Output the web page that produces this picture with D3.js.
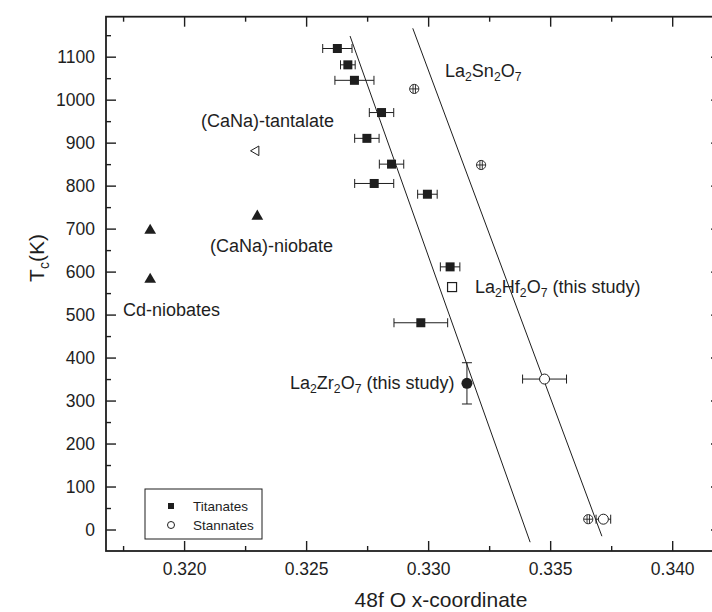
<!DOCTYPE html>
<html>
<head>
<meta charset="utf-8">
<script src="https://cdn.jsdelivr.net/npm/d3@7"></script>
<style>
body { margin: 0; background: #fff; }
svg text { font-family: "Liberation Sans", Arial, Helvetica, sans-serif; fill: #1e1e1e; }
</style>
</head>
<body>
<svg id="chart" width="712" height="612"></svg>
<script>
// titanates: filled squares with x error bars
const titX   = [0.32628, 0.32671, 0.32698, 0.32809, 0.32749, 0.32850, 0.32779, 0.32997, 0.33090, 0.32970];
const titY   = [1119, 1081, 1045, 970, 910, 850, 805, 780, 611, 481];
const titErr = [0.0006, 0.0003, 0.0008, 0.0005, 0.0005, 0.0005, 0.0008, 0.0004, 0.0004, 0.0011];

// stannates: open circles (with x error) and crossed circles
const snX   = [0.33477, 0.33718];
const snY   = [350, 24];
const snErr = [0.0009, 0.0003];
const snCrossX = [0.32943, 0.33217, 0.33656];
const snCrossY = [1025, 848, 24];

// this study
const hfPt = [0.33098, 564];
const zrPt = [0.33159, 340];
const zrErr = 48;

// niobates (filled triangles) and tantalate (open left triangle)
const niobX = [0.31861, 0.31861, 0.32300];
const niobY = [698, 584, 731];
const tantPt = [0.32295, 881];

// linear trend lines [x0, y0, x1, y1]
const titLine = [0.32680, 1148, 0.33418, -29.5];
const snLine  = [0.32937, 1166, 0.33712, -15.6];

const xTicks = [0.320, 0.325, 0.330, 0.335, 0.340];
const xMinor = [0.3175, 0.3225, 0.3275, 0.3325, 0.3375];
const yTicks = [0, 100, 200, 300, 400, 500, 600, 700, 800, 900, 1000, 1100];
const yMinor = [50, 150, 250, 350, 450, 550, 650, 750, 850, 950, 1050, 1150];

const ink = '#1e1e1e';
const svg = d3.select('#chart');
const x = d3.scaleLinear().domain([0.3168, 0.342]).range([106, 721]);
const y = d3.scaleLinear().domain([-50, 1193]).range([551, 16.7]);

// axes
function axisGroup(axis, tx, ty) {
    const g = svg.append('g').attr('transform', `translate(${tx},${ty})`).call(axis);
    g.select('.domain').remove();
    g.selectAll('line').attr('stroke', ink).attr('stroke-width', 1.4);
    g.selectAll('text').attr('font-size', 17.5).attr('fill', ink)
        .attr('font-family', '"Liberation Sans", Arial, sans-serif');
    return g;
}
axisGroup(d3.axisBottom(x).tickValues(xTicks).tickSizeInner(-10).tickSizeOuter(0).tickPadding(12).tickFormat(d3.format('.3f')), 0, 551);
axisGroup(d3.axisBottom(x).tickValues(xMinor).tickSize(-5).tickFormat(''), 0, 551);
axisGroup(d3.axisTop(x).tickValues(xTicks).tickSize(-10).tickFormat(''), 0, 16.7);
axisGroup(d3.axisTop(x).tickValues(xMinor).tickSize(-5).tickFormat(''), 0, 16.7);
axisGroup(d3.axisLeft(y).tickValues(yTicks).tickSizeInner(-10).tickSizeOuter(0).tickPadding(11).tickFormat(d3.format('d')), 106, 0);
axisGroup(d3.axisLeft(y).tickValues(yMinor).tickSize(-5).tickFormat(''), 106, 0);
axisGroup(d3.axisRight(y).tickValues(yTicks).tickSize(-10).tickFormat(''), 721, 0);
axisGroup(d3.axisRight(y).tickValues(yMinor).tickSize(-5).tickFormat(''), 721, 0);

svg.append('rect')
    .attr('x', x.range()[0]).attr('y', y.range()[1])
    .attr('width', x.range()[1] - x.range()[0]).attr('height', y.range()[0] - y.range()[1])
    .attr('fill', 'none').attr('stroke', ink).attr('stroke-width', 1.8);

// titles
svg.append('text').attr('x', 441).attr('y', 607).attr('text-anchor', 'middle')
    .attr('font-size', 21).text('48f O x-coordinate');
const yt = svg.append('text').attr('transform', 'translate(44,258) rotate(-90)')
    .attr('text-anchor', 'middle').attr('font-size', 21);
yt.append('tspan').text('T');
yt.append('tspan').attr('dy', 5).attr('font-size', 14).text('c');
yt.append('tspan').attr('dy', -5).text('(K)');

// trend lines
[titLine, snLine].forEach(l => {
    svg.append('line')
        .attr('x1', x(l[0])).attr('y1', y(l[1]))
        .attr('x2', x(l[2])).attr('y2', y(l[3]))
        .attr('stroke', ink).attr('stroke-width', 1);
});

// horizontal error bars
function xErrBar(cx, cy, e) {
    const g = svg.append('g').attr('stroke', ink).attr('stroke-width', 1);
    g.append('line').attr('x1', x(cx - e)).attr('x2', x(cx + e)).attr('y1', y(cy)).attr('y2', y(cy));
    [cx - e, cx + e].forEach(v => {
        g.append('line').attr('x1', x(v)).attr('x2', x(v)).attr('y1', y(cy) - 4.5).attr('y2', y(cy) + 4.5);
    });
}

titX.forEach((v, i) => xErrBar(v, titY[i], titErr[i]));
svg.append('g').selectAll('rect')
    .data(titX.map((v, i) => [v, titY[i]]))
    .enter()
    .append('rect')
    .attr('x', d => x(d[0]) - 4.5)
    .attr('y', d => y(d[1]) - 4.5)
    .attr('width', 9).attr('height', 9)
    .attr('fill', ink);

snX.forEach((v, i) => xErrBar(v, snY[i], snErr[i]));
svg.append('g').selectAll('circle')
    .data(snX.map((v, i) => [v, snY[i]]))
    .enter()
    .append('circle')
    .attr('cx', d => x(d[0])).attr('cy', d => y(d[1])).attr('r', 5)
    .attr('fill', '#fff').attr('stroke', ink).attr('stroke-width', 1);

// crossed circles
const cross = svg.append('g').selectAll('g')
    .data(snCrossX.map((v, i) => [v, snCrossY[i]]))
    .enter()
    .append('g')
    .attr('transform', d => `translate(${x(d[0])},${y(d[1])})`)
    .attr('stroke', ink).attr('stroke-width', 0.9).attr('fill', 'none');
cross.append('circle').attr('r', 4.6).attr('fill', '#fff');
cross.append('line').attr('x1', -4.6).attr('x2', 4.6);
cross.append('line').attr('x1', -1.2).attr('x2', -1.2).attr('y1', -4.4).attr('y2', 4.4);
cross.append('line').attr('x1', 1.2).attr('x2', 1.2).attr('y1', -4.4).attr('y2', 4.4);

// La2Hf2O7: open square
svg.append('rect')
    .attr('x', x(hfPt[0]) - 4.5).attr('y', y(hfPt[1]) - 4.5)
    .attr('width', 9).attr('height', 9)
    .attr('fill', '#fff').attr('stroke', ink).attr('stroke-width', 1.2);

// La2Zr2O7: filled circle, y error bar
const zg = svg.append('g').attr('stroke', ink).attr('stroke-width', 1);
zg.append('line').attr('x1', x(zrPt[0])).attr('x2', x(zrPt[0]))
    .attr('y1', y(zrPt[1] - zrErr)).attr('y2', y(zrPt[1] + zrErr));
[zrPt[1] - zrErr, zrPt[1] + zrErr].forEach(v => {
    zg.append('line').attr('x1', x(zrPt[0]) - 5).attr('x2', x(zrPt[0]) + 5)
        .attr('y1', y(v)).attr('y2', y(v));
});
svg.append('circle').attr('cx', x(zrPt[0])).attr('cy', y(zrPt[1])).attr('r', 5.5).attr('fill', ink);

// triangles
const tri = d3.symbol().type(d3.symbolTriangle).size(60);
svg.append('g').selectAll('path')
    .data(niobX.map((v, i) => [v, niobY[i]]))
    .enter()
    .append('path')
    .attr('d', tri)
    .attr('transform', d => `translate(${x(d[0])},${y(d[1]) + 1})`)
    .attr('fill', ink);
svg.append('path')
    .attr('d', d3.symbol().type(d3.symbolTriangle).size(40))
    .attr('transform', `translate(${x(tantPt[0])},${y(tantPt[1])}) rotate(-90)`)
    .attr('fill', '#fff').attr('stroke', ink).attr('stroke-width', 1);

// annotations: digits become subscripts
function subText(tx, ty, str, size) {
    const t = svg.append('text').attr('x', tx).attr('y', ty).attr('font-size', size);
    let sub = false;
    str.split(/(\d)/).filter(s => s.length).forEach(s => {
        const isSub = /^\d$/.test(s);
        const dy = isSub && !sub ? 4 : (!isSub && sub ? -4 : 0);
        t.append('tspan').attr('dy', dy).attr('font-size', isSub ? size * 0.68 : size).text(s);
        sub = isSub;
    });
}
subText(445, 77, 'La2Sn2O7', 18);
subText(475, 293, 'La2Hf2O7 (this study)', 18);
subText(290, 389, 'La2Zr2O7 (this study)', 18);
svg.append('text').attr('x', 201).attr('y', 127).attr('font-size', 18).text('(CaNa)-tantalate');
svg.append('text').attr('x', 210).attr('y', 252).attr('font-size', 18).text('(CaNa)-niobate');
svg.append('text').attr('x', 123).attr('y', 316).attr('font-size', 18).text('Cd-niobates');

// legend
const lg = svg.append('g');
lg.append('rect').attr('x', 145).attr('y', 489).attr('width', 117).attr('height', 50)
    .attr('fill', '#fff').attr('stroke', ink).attr('stroke-width', 1);
lg.append('rect').attr('x', 168).attr('y', 503).attr('width', 6).attr('height', 6).attr('fill', ink);
lg.append('circle').attr('cx', 171).attr('cy', 525).attr('r', 3.5)
    .attr('fill', '#fff').attr('stroke', ink).attr('stroke-width', 1);
lg.append('text').attr('x', 193).attr('y', 511).attr('font-size', 13.5).text('Titanates');
lg.append('text').attr('x', 193).attr('y', 530).attr('font-size', 13.5).text('Stannates');
</script>
</body>
</html>
